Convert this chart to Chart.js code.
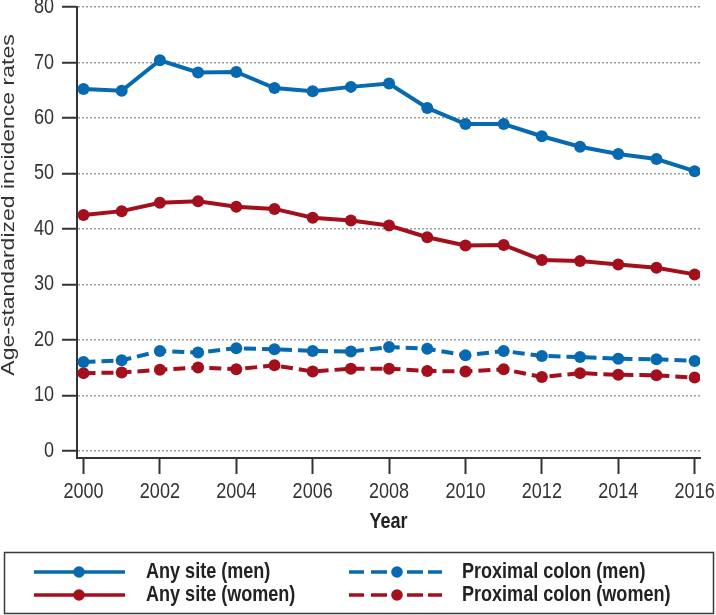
<!DOCTYPE html>
<html><head><meta charset="utf-8">
<script src="https://cdn.jsdelivr.net/npm/chart.js@4.4.1/dist/chart.umd.min.js"></script>
<style>html,body{margin:0;padding:0;background:#fff}canvas{display:block}</style>
</head><body>
<canvas id="c" width="716" height="615"></canvas>
<script>
const years = [2000,2001,2002,2003,2004,2005,2006,2007,2008,2009,2010,2011,2012,2013,2014,2015,2016];
const anySiteMen = [65.2,64.9,70.4,68.2,68.3,65.4,64.8,65.6,66.2,61.8,58.9,58.9,56.7,54.8,53.5,52.6,50.4];
const anySiteWomen = [42.5,43.2,44.7,45.0,44.0,43.6,42.0,41.5,40.6,38.5,37.0,37.1,34.4,34.2,33.6,33.0,31.8];
const proximalMen = [16.0,16.3,18.0,17.7,18.5,18.3,18.0,17.9,18.7,18.4,17.2,18.0,17.1,16.9,16.6,16.5,16.2];
const proximalWomen = [14.0,14.1,14.6,15.0,14.7,15.4,14.3,14.8,14.8,14.4,14.3,14.7,13.3,14.0,13.7,13.6,13.2];
const xTickLabels = [2000,2002,2004,2006,2008,2010,2012,2014,2016];
const yTickLabels = [0,10,20,30,40,50,60,70,80];
const seriesLabels = ['Any site (men)','Any site (women)','Proximal colon (men)','Proximal colon (women)'];
const xTitle = 'Year';
const yTitle = 'Age-standardized incidence rates';

const BLUE = '#0769b0';
const RED = '#a30f1d';
const AXIS = '#333333';
const FAM = "'Liberation Sans', Arial, sans-serif";
const SQUEEZE = 0.82;

function pts(vals){ return years.map((y,i)=>({x:y,y:vals[i]})); }
function ds(label, vals, color, dashed){
  return {label, data: pts(vals), borderColor: color, backgroundColor: color,
    pointBackgroundColor: color, pointBorderColor: color, pointBorderWidth: 0,
    pointRadius: 6, pointHoverRadius: 6, borderWidth: 4, tension: 0,
    borderDash: dashed ? [12,6] : [], fill: false};
}

function squeezedText(ctx, str, x, y, align, font, color){
  ctx.save();
  ctx.translate(x, y);
  ctx.scale(SQUEEZE, 1);
  ctx.font = font;
  ctx.fillStyle = color;
  ctx.textAlign = align;
  ctx.textBaseline = 'middle';
  ctx.fillText(str, 0, 0);
  ctx.restore();
}

const textPlugin = {
  id: 'axisText',
  afterDraw(chart){
    const ctx = chart.ctx;
    const xs = chart.scales.x, ys = chart.scales.y;
    const xo = xs.options, yo = ys.options;
    const xLabelY = xs.top + xo.grid.tickLength + 18;
    xs.ticks.forEach(t => squeezedText(ctx, String(t.value), xs.getPixelForValue(t.value), xLabelY,
      'center', '22px ' + FAM, '#333'));
    const yLabelX = ys.right - yo.grid.tickLength - 8;
    ys.ticks.forEach(t => squeezedText(ctx, String(t.value), yLabelX, ys.getPixelForValue(t.value),
      'right', '22px ' + FAM, '#333'));
    squeezedText(ctx, xTitle, (chart.chartArea.left + chart.chartArea.right) / 2, 522,
      'center', 'bold 22px ' + FAM, '#222');
    ctx.save();
    ctx.translate(9, 205);
    ctx.rotate(-Math.PI/2);
    ctx.scale(1, SQUEEZE);
    ctx.font = '23px ' + FAM;
    ctx.fillStyle = '#333';
    ctx.textAlign = 'center';
    ctx.textBaseline = 'middle';
    ctx.fillText(yTitle, 0, 0);
    ctx.restore();
  }
};

const legendPlugin = {
  id: 'boxLegend',
  afterDraw(chart){
    const ctx = chart.ctx;
    const sets = chart.data.datasets;
    ctx.save();
    ctx.lineWidth = 1.5;
    ctx.strokeStyle = '#3a3a3a';
    ctx.strokeRect(4.5, 552.5, 709, 61);
    const cols = [{lx0:34,lx1:125,cx:79,tx:146},{lx0:349,lx1:442,cx:397,tx:462}];
    const rows = [572, 595];
    cols.forEach((c,ci)=>{
      rows.forEach((ry,ri)=>{
        const d = sets[ci*2+ri];
        ctx.strokeStyle = d.borderColor;
        ctx.fillStyle = d.borderColor;
        ctx.lineWidth = 3.5;
        ctx.beginPath();
        if (ci === 0) {
          ctx.moveTo(c.lx0, ry); ctx.lineTo(c.lx1, ry);
        } else {
          [[349,364],[371,387],[407,423],[428,442]].forEach(s=>{ctx.moveTo(s[0],ry);ctx.lineTo(s[1],ry);});
        }
        ctx.stroke();
        ctx.beginPath();
        ctx.arc(c.cx, ry, 5.8, 0, Math.PI*2);
        ctx.fill();
        squeezedText(ctx, d.label, c.tx, ry, 'left', 'bold 22px ' + FAM, '#222');
      });
    });
    ctx.restore();
  }
};

new Chart(document.getElementById('c'), {
  type: 'line',
  data: {
    datasets: [
      ds(seriesLabels[0], anySiteMen, BLUE, false),
      ds(seriesLabels[1], anySiteWomen, RED, false),
      ds(seriesLabels[2], proximalMen, BLUE, true),
      ds(seriesLabels[3], proximalWomen, RED, true)
    ]
  },
  options: {
    responsive: false,
    devicePixelRatio: 1,
    animation: false,
    layout: {padding: {left: 0, top: 7, right: 16, bottom: 80}},
    plugins: {legend: {display: false}, tooltip: {enabled: false}, title: {display: false}},
    scales: {
      x: {
        type: 'linear',
        min: 1999.83, max: 2016.14,
        afterBuildTicks(s){ s.ticks = xTickLabels.map(v=>({value:v})); },
        afterFit(s){ s.height = 77; s.paddingLeft = 0; s.paddingRight = 0; },
        grid: {display: true, drawOnChartArea: false, drawTicks: true, tickLength: 16,
               tickColor: AXIS, tickWidth: 2, color: AXIS},
        border: {display: true, color: AXIS, width: 2},
        ticks: {display: false},
        title: {display: false}
      },
      y: {
        type: 'linear',
        min: -1.3, max: 80,
        afterBuildTicks(s){ s.ticks = yTickLabels.map(v=>({value:v})); },
        afterFit(s){ s.width = 77; s.paddingTop = 0; s.paddingBottom = 0; },
        grid: {display: true, drawOnChartArea: true, drawTicks: true, tickLength: 15,
               tickColor: AXIS, tickWidth: 2, color: '#9c9c9c', lineWidth: 1.5},
        border: {display: true, color: AXIS, width: 2, dash: [2,2]},
        ticks: {display: false},
        title: {display: false}
      }
    }
  },
  plugins: [textPlugin, legendPlugin]
});
</script>
</body></html>
